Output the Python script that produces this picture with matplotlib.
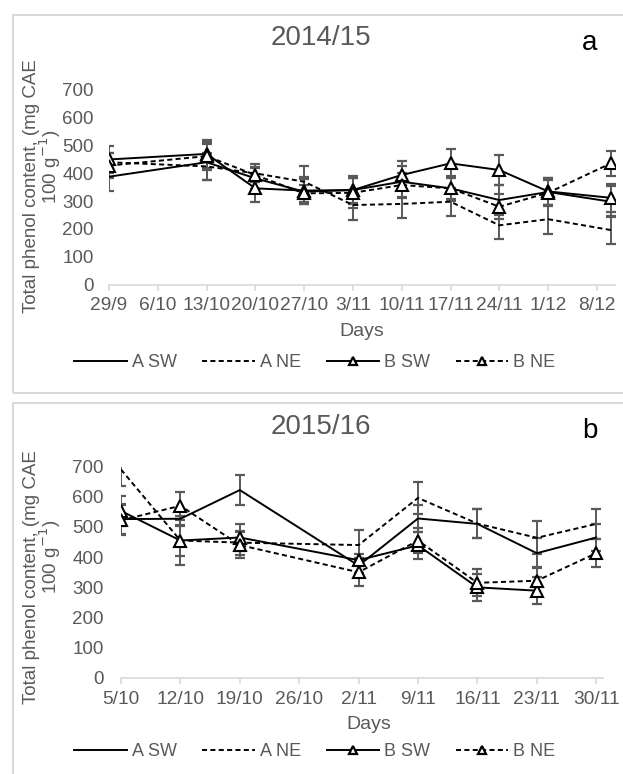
import matplotlib
matplotlib.use("Agg")
import matplotlib.pyplot as plt
from matplotlib.lines import Line2D
from matplotlib.patches import Rectangle
import numpy as np
from datetime import date

plt.rcParams['font.family'] = ['Liberation Sans', 'DejaVu Sans']

# ---------------- data ----------------
series_names = ['A SW', 'A NE', 'B SW', 'B NE']

# Panel a 2014/15
dates_a = ['29/9', '13/10', '20/10', '27/10', '3/11', '10/11', '17/11', '24/11', '1/12', '10/12']
ticks_a = ['29/9', '6/10', '13/10', '20/10', '27/10', '3/11', '10/11', '17/11', '24/11', '1/12', '8/12']
asw_a = [388, 440, 382, 334, 340, 370, 346, 304, 333, 298]
ane_a = [440, 425, 400, 370, 286, 290, 298, 213, 235, 196]
bsw_a = [450, 470, 346, 338, 340, 394, 436, 412, 335, 312]
bne_a = [428, 462, 394, 328, 330, 358, 346, 280, 330, 436]
asw_a_err = [50, 65, 40, 45, 45, 55, 45, 55, 50, 55]
ane_a_err = [35, 50, 32, 55, 54, 52, 50, 50, 52, 50]
bsw_a_err = [50, 50, 50, 50, 52, 50, 52, 53, 50, 50]
bne_a_err = [45, 50, 25, 30, 55, 45, 40, 45, 45, 46]

# Panel b 2015/16
dates_b = ['5/10', '12/10', '19/10', '2/11', '9/11', '16/11', '23/11', '30/11']
ticks_b = ['5/10', '12/10', '19/10', '26/10', '2/11', '9/11', '16/11', '23/11', '30/11']
asw_b = [526, 527, 622, 372, 528, 510, 413, 465]
ane_b = [690, 455, 448, 440, 596, 511, 464, 510]
bsw_b = [553, 455, 465, 390, 439, 300, 289, np.nan]
bne_b = [522, 570, 440, 350, 455, 315, 322, 413]
asw_b_err = [50, 25, 50, 25, 45, 48, 50, 45]
ane_b_err = [55, 50, 40, 50, 54, 48, 55, 50]
bsw_b_err = [50, 80, 45, 20, 45, 45, 45, np.nan]
bne_b_err = [50, 47, 43, 45, 40, 45, 47, 46]

yticks = [0, 100, 200, 300, 400, 500, 600, 700]


def to_days(labels, year, start):
    out = []
    for s in labels:
        d, m = (int(v) for v in s.split('/'))
        out.append((date(year, m, d) - start).days)
    return np.array(out, dtype=float)


GRAY = '#595959'
LIGHT = '#d9d9d9'
W, H = 623, 774
fig = plt.figure(figsize=(W / 100, H / 100), dpi=100)

# panel borders
for (y0, y1) in [(15, 393), (403, 790)]:
    fig.patches.append(Rectangle((13 / W, 1 - y1 / H), (640 - 13) / W, (y1 - y0) / H,
                                 transform=fig.transFigure, fill=False,
                                 edgecolor=LIGHT, lw=1.5))

dash = (0, (2.6, 1.7))
styles = [dict(ls='-', marker=None), dict(ls=dash, marker=None),
          dict(ls='-', marker='^'), dict(ls=dash, marker='^')]


def draw(ax, x, series, errs, tick_x, tick_labels, xmax, ypad, xpad):
    for ys, es in zip(series, errs):
        ax.errorbar(x, ys, yerr=es, fmt='none', ecolor=GRAY, elinewidth=1.4,
                    capsize=3.8, capthick=1.6, zorder=2)
    for ys, st in zip(series, styles):
        ys = np.asarray(ys, dtype=float)
        m = ~np.isnan(ys)
        ax.plot(x[m], ys[m], color='black', lw=1.4, linestyle=st['ls'],
                marker=st['marker'], markersize=8.5, markerfacecolor='white',
                markeredgecolor='black', markeredgewidth=1.5, zorder=3)
    ax.set_xlim(0, xmax)
    ax.set_ylim(0, 700)
    ax.set_yticks(yticks)
    ax.set_xticks(tick_x)
    ax.set_xticklabels(tick_labels)
    for s in ['left', 'top', 'right']:
        ax.spines[s].set_visible(False)
    ax.spines['bottom'].set_color(LIGHT)
    ax.spines['bottom'].set_linewidth(1.2)
    ax.tick_params(axis='x', colors=LIGHT, labelcolor=GRAY, length=4, width=1.2,
                   labelsize=13.8, pad=xpad)
    ax.tick_params(axis='y', length=0, labelcolor=GRAY, labelsize=13.5, pad=ypad)
    ax.set_facecolor('none')


# ---- panel a
start_a = date(2014, 9, 29)
xa = to_days(dates_a, 2014, start_a)
txa = np.arange(len(ticks_a)) * 7
axa = fig.add_axes([109 / W, 1 - 284.5 / H, 506 / W, 194.5 / H])
draw(axa, xa, [asw_a, ane_a, bsw_a, bne_a], [asw_a_err, ane_a_err, bsw_a_err, bne_a_err],
     txa, ticks_a, 72.6, 11, 5)

# ---- panel b
start_b = date(2015, 10, 5)
xb = to_days(dates_b, 2015, start_b)
txb = np.arange(len(ticks_b)) * 7
axb = fig.add_axes([121 / W, 1 - 678 / H, 482 / W, 211.5 / H])
draw(axb, xb, [asw_b, ane_b, bsw_b, bne_b], [asw_b_err, ane_b_err, bsw_b_err, bne_b_err],
     txb, ticks_b, 56.8, 12.5, 5)

# texts
for (title, letter, ty, ly, cy, daysx, daysy) in [
        ('2014/15', 'a', 45, 50, 186.5, 362, 336),
        ('2015/16', 'b', 434, 438, 577, 369, 729)]:
    fig.text(321 / W, 1 - ty / H, title, ha='center', va='baseline', fontsize=20, color=GRAY)
    fig.text(590 / W, 1 - ly / H, letter, ha='center', va='baseline', fontsize=20, color='black')
    fig.text(daysx / W, 1 - daysy / H, 'Days', ha='center', va='baseline', fontsize=14, color=GRAY)
    fig.text(36 / W, 1 - cy / H, 'Total phenol content, (mg CAE', rotation=90,
             rotation_mode='anchor', ha='center', va='baseline', fontsize=13.5, color=GRAY)
    fig.text(57 / W, 1 - (cy - 20) / H, '100 g$^{-1}$)', rotation=90,
             rotation_mode='anchor', ha='center', va='baseline', fontsize=13.5, color=GRAY)

handles = [Line2D([], [], color='black', lw=1.4, linestyle=st['ls'], marker=st['marker'],
                  markersize=6, markerfacecolor='white', markeredgecolor='black',
                  markeredgewidth=1.6) for st in styles]
for ly in [363, 752]:
    fig.legend(handles, series_names, loc='center', bbox_to_anchor=(315 / W, 1 - ly / H),
               ncol=4, frameon=False, fontsize=13, labelcolor=GRAY, handlelength=2.9,
               handletextpad=0.3, columnspacing=1.4, borderpad=0, borderaxespad=0)

fig.savefig('out.png', dpi=100)
